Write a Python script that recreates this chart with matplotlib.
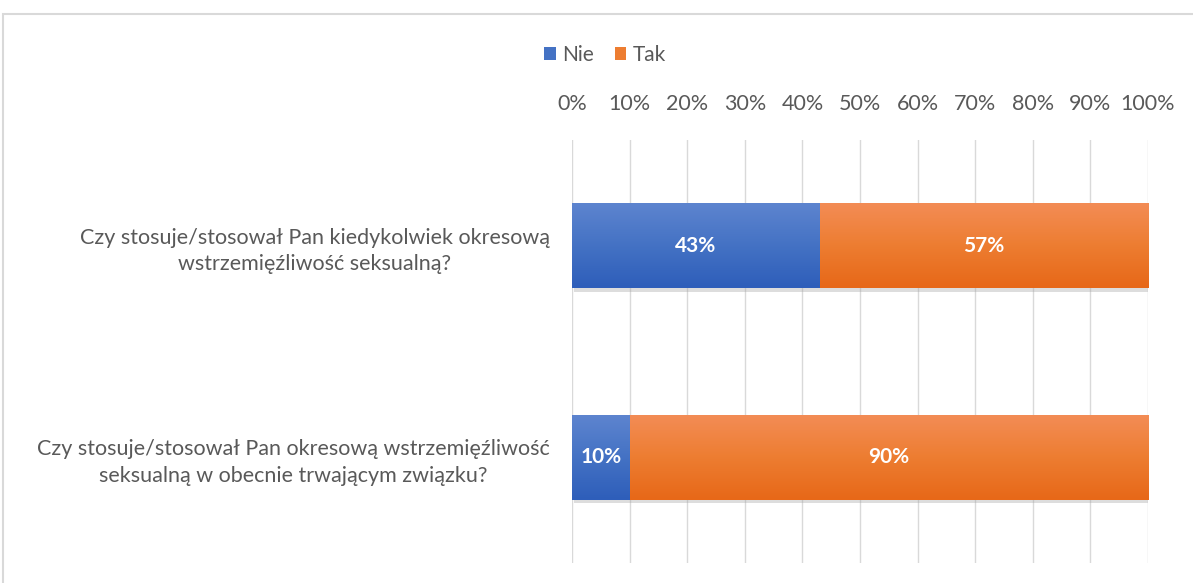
import matplotlib
matplotlib.use('Agg')
import matplotlib.pyplot as plt
import numpy as np
from matplotlib.patches import Patch, Rectangle
from matplotlib.colors import LinearSegmentedColormap
import matplotlib.patheffects as pe
from matplotlib.ticker import FuncFormatter

# ── Data ─────────────────────────────────────────────
categories = [
    'Czy stosuje/stosował Pan kiedykolwiek okresową\nwstrzemięźliwość seksualną?',
    'Czy stosuje/stosował Pan okresową wstrzemięźliwość\nseksualną w obecnie trwającym związku?',
]
nie = [43, 10]
tak = [57, 90]
series_names = ['Nie', 'Tak']

# ── Style ────────────────────────────────────────────
FONT = ['Lato', 'Open Sans', 'DejaVu Sans']
C_TEXT = '#595959'
C_GRID = '#d9d9d9'
C_BLUE = '#4472c4'
C_ORANGE = '#ed7d31'
GRAD = {
    C_BLUE: ('#5d84cf', '#2e5eba'),
    C_ORANGE: ('#f38c55', '#e76818'),
}
plt.rcParams['font.family'] = FONT

fig = plt.figure(figsize=(11.93, 5.83), dpi=100)
fig.patch.set_facecolor('white')

# chart border
fig.add_artist(Rectangle((3 / 1193, -0.1), 1.2, 1.1 - 14 / 583,
                         transform=fig.transFigure, fill=False,
                         edgecolor='#d9d9d9', linewidth=1.5))

ax = fig.add_axes([572 / 1193, 1 - 563 / 583, 576 / 1193, 423 / 583])
y = np.arange(len(categories))
shadow = [pe.SimplePatchShadow(offset=(1.5, -2.5), shadow_rgbFace='#a0a0a0', alpha=0.35),
          pe.Normal()]

bars_nie = ax.barh(y, nie, height=0.40, color=C_BLUE, zorder=3, path_effects=shadow)
bars_tak = ax.barh(y, tak, left=nie, height=0.40, color=C_ORANGE, zorder=3,
                   path_effects=shadow)

# gradient fill clipped to each bar
for bars, col in [(bars_nie, C_BLUE), (bars_tak, C_ORANGE)]:
    cmap = LinearSegmentedColormap.from_list('g', [GRAD[col][0], col, GRAD[col][1]])
    for p in bars:
        x0, y0 = p.get_x(), p.get_y()
        w, h = p.get_width(), p.get_height()
        im = ax.imshow(np.linspace(0, 1, 64).reshape(-1, 1), cmap=cmap, aspect='auto',
                       extent=(x0, x0 + w, y0 + h, y0), zorder=4, interpolation='bicubic')
        im.set_clip_path(p)

for bars, vals in [(bars_nie, nie), (bars_tak, tak)]:
    ax.bar_label(bars, labels=[f'{v}%' for v in vals], label_type='center',
                 color='white', fontsize=15, fontweight='bold')
for t in ax.texts:
    t.set_zorder(6)

ax.set_xlim(0, 100)
ax.set_ylim(len(categories) - 0.5, -0.5)
ax.set_xticks(np.arange(0, 101, 10))
ax.xaxis.set_major_formatter(FuncFormatter(lambda v, _: f'{v:.0f}%'))
ax.xaxis.tick_top()
ax.tick_params(axis='x', length=0, pad=19, labelsize=15.5, labelcolor=C_TEXT)
ax.set_yticks(y)
ax.set_yticklabels(categories, fontsize=15.5, color=C_TEXT, ha='right',
                   multialignment='center', linespacing=1.4)
ax.tick_params(axis='y', length=0, pad=16)
ax.grid(axis='x', color=C_GRID, linewidth=1, zorder=0)
for s in ax.spines.values():
    s.set_visible(False)

handles = [Patch(facecolor=C_BLUE, label=series_names[0]),
           Patch(facecolor=C_ORANGE, label=series_names[1])]
fig.legend(handles=handles, loc='center', bbox_to_anchor=(605 / 1193, 1 - 55 / 583),
           ncol=2, frameon=False, fontsize=15, handlelength=0.55, handleheight=0.55,
           handletextpad=0.3, columnspacing=1.0, labelcolor=C_TEXT)

fig.savefig('out.png', dpi=100, facecolor='white')
